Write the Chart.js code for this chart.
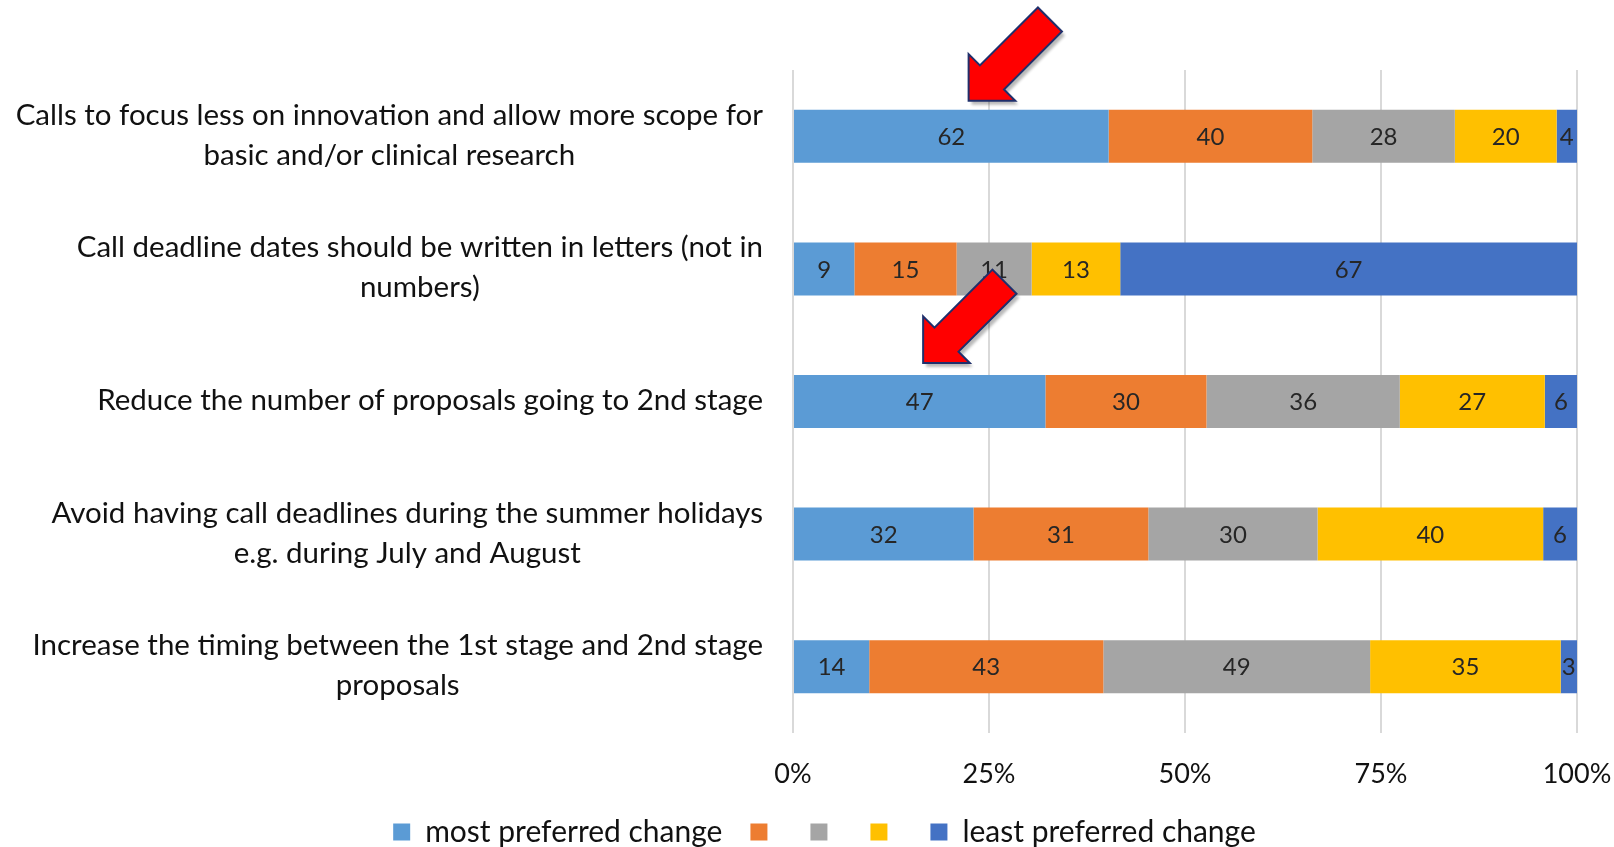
<!DOCTYPE html>
<html>
<head>
<meta charset="utf-8">
<script src="https://cdn.jsdelivr.net/npm/chart.js@4/dist/chart.umd.min.js"></script>
<style>
html,body{margin:0;padding:0;background:#fff;}
#wrap{width:1614px;height:847px;position:relative;}
</style>
</head>
<body>
<div id="wrap"><canvas id="c" width="1614" height="847"></canvas></div>
<script>
// ---- data ----
const categories = [
  ['Calls to focus less on innovation and allow more scope for', 'basic and/or clinical research'],
  ['Call deadline dates should be written in letters (not in', 'numbers)'],
  ['Reduce the number of proposals going to 2nd stage'],
  ['Avoid having call deadlines during the summer holidays', 'e.g. during July and August'],
  ['Increase the timing between the 1st stage and 2nd stage', 'proposals']
];
const seriesNames = ['most preferred change', '', '', '', 'least preferred change'];
const rank1 = [62, 9, 47, 32, 14];
const rank2 = [40, 15, 30, 31, 43];
const rank3 = [28, 11, 36, 30, 49];
const rank4 = [20, 13, 27, 40, 35];
const rank5 = [4, 67, 6, 6, 3];
const xTickValues = [0, 25, 50, 75, 100];
// arrow annotations: [category index, x value (%) of tip]
const arrowAnchors = [[0, 22.4], [2, 16.6]];

const seriesColors = ['#5B9BD5', '#ED7D31', '#A5A5A5', '#FFC000', '#4472C4'];
const FONT = 'Lato, "Open Sans", sans-serif';
const allSeries = [rank1, rank2, rank3, rank4, rank5];
const totals = categories.map((_, i) => allSeries.reduce((s, a) => s + a[i], 0));

const datasets = allSeries.map((arr, k) => ({
  label: seriesNames[k],
  counts: arr,
  data: arr.map((v, i) => v / totals[i] * 100),
  backgroundColor: seriesColors[k],
  borderWidth: 0,
  categoryPercentage: 1.0,
  barPercentage: 0.4
}));

const legendShift = {
  id: 'legendShift',
  afterLayout(chart) {
    if (chart.legend) { chart.legend.left += 36; chart.legend.right += 36; }
  }
};

const labelPlugin = {
  id: 'customText',
  afterDatasetsDraw(chart) {
    const ctx = chart.ctx;
    // data labels
    ctx.save();
    ctx.font = '24px ' + FONT;
    ctx.fillStyle = '#262626';
    ctx.textAlign = 'center';
    ctx.textBaseline = 'middle';
    chart.data.datasets.forEach((ds, k) => {
      const meta = chart.getDatasetMeta(k);
      meta.data.forEach((bar, i) => {
        const cx = (bar.x + bar.base) / 2;
        ctx.fillText(String(ds.counts[i]), cx, bar.y + 1);
      });
    });
    ctx.restore();

    // category labels
    const ys = chart.scales.y;
    const xs = chart.scales.x;
    const right = xs.left - 30;
    ctx.save();
    ctx.font = '29.5px ' + FONT;
    ctx.fillStyle = '#111';
    ctx.textAlign = 'center';
    ctx.textBaseline = 'middle';
    const lh = 40;
    categories.forEach((lines, i) => {
      const cy = ys.getPixelForValue(i) - 1;
      const maxW = Math.max(...lines.map(l => ctx.measureText(l).width));
      const cx = right - maxW / 2;
      const y0 = cy - (lines.length - 1) * lh / 2;
      lines.forEach((l, j) => ctx.fillText(l, cx, y0 + j * lh));
    });
    ctx.restore();

    // arrows
    const meta0 = chart.getDatasetMeta(0);
    arrowAnchors.forEach(([idx, val]) => {
      const bar = meta0.data[idx];
      const tx = xs.getPixelForValue(val);
      const ty = bar.y - bar.height / 2 - (idx === 0 ? 9 : 12);
      const pts = [[0, 0], [33, -33], [33, -17], [115, -17], [115, 17], [33, 17], [33, 33]];
      const d = [Math.SQRT1_2, -Math.SQRT1_2], n = [Math.SQRT1_2, Math.SQRT1_2];
      ctx.save();
      ctx.beginPath();
      pts.forEach(([a, b], j) => {
        const px = tx + a * d[0] + b * n[0];
        const py = ty + a * d[1] + b * n[1];
        if (j === 0) ctx.moveTo(px, py); else ctx.lineTo(px, py);
      });
      ctx.closePath();
      ctx.shadowColor = 'rgba(0,0,0,0.28)';
      ctx.shadowOffsetX = 3;
      ctx.shadowOffsetY = 4;
      ctx.shadowBlur = 3;
      ctx.fillStyle = '#FF0000';
      ctx.fill();
      ctx.shadowColor = 'transparent';
      ctx.lineWidth = 2;
      ctx.lineJoin = 'miter';
      ctx.strokeStyle = '#1F2F6B';
      ctx.stroke();
      ctx.restore();
    });
  }
};

new Chart(document.getElementById('c'), {
  type: 'bar',
  data: { labels: categories.map((c) => c.join(' ')), datasets },
  options: {
    indexAxis: 'y',
    responsive: false,
    animation: false,
    devicePixelRatio: 1,
    layout: { padding: { top: 70, right: 37, bottom: -10, left: 0 } },
    scales: {
      x: {
        stacked: true,
        min: 0, max: 100,
        afterBuildTicks(scale) { scale.ticks = xTickValues.map(v => ({ value: v })); },
        ticks: {
          callback: (v) => v + '%',
          font: { family: FONT, size: 27 },
          color: '#111',
          padding: 25,
          maxRotation: 0
        },
        grid: { color: '#D9D9D9', lineWidth: 2, drawTicks: false },
        border: { display: false },
        afterFit(scale) { scale.height = 56; scale.paddingLeft = 0; scale.paddingRight = 0; }
      },
      y: {
        stacked: true,
        ticks: { display: false },
        grid: { display: false },
        border: { display: false },
        afterFit(scale) { scale.width = 793; }
      }
    },
    plugins: {
      legend: {
        position: 'bottom',
        labels: {
          font: { family: FONT, size: 30 },
          color: '#111',
          boxWidth: 17,
          boxHeight: 17,
          padding: 28
        }
      },
      tooltip: { enabled: false }
    }
  },
  plugins: [labelPlugin, legendShift]
});
</script>
</body>
</html>
